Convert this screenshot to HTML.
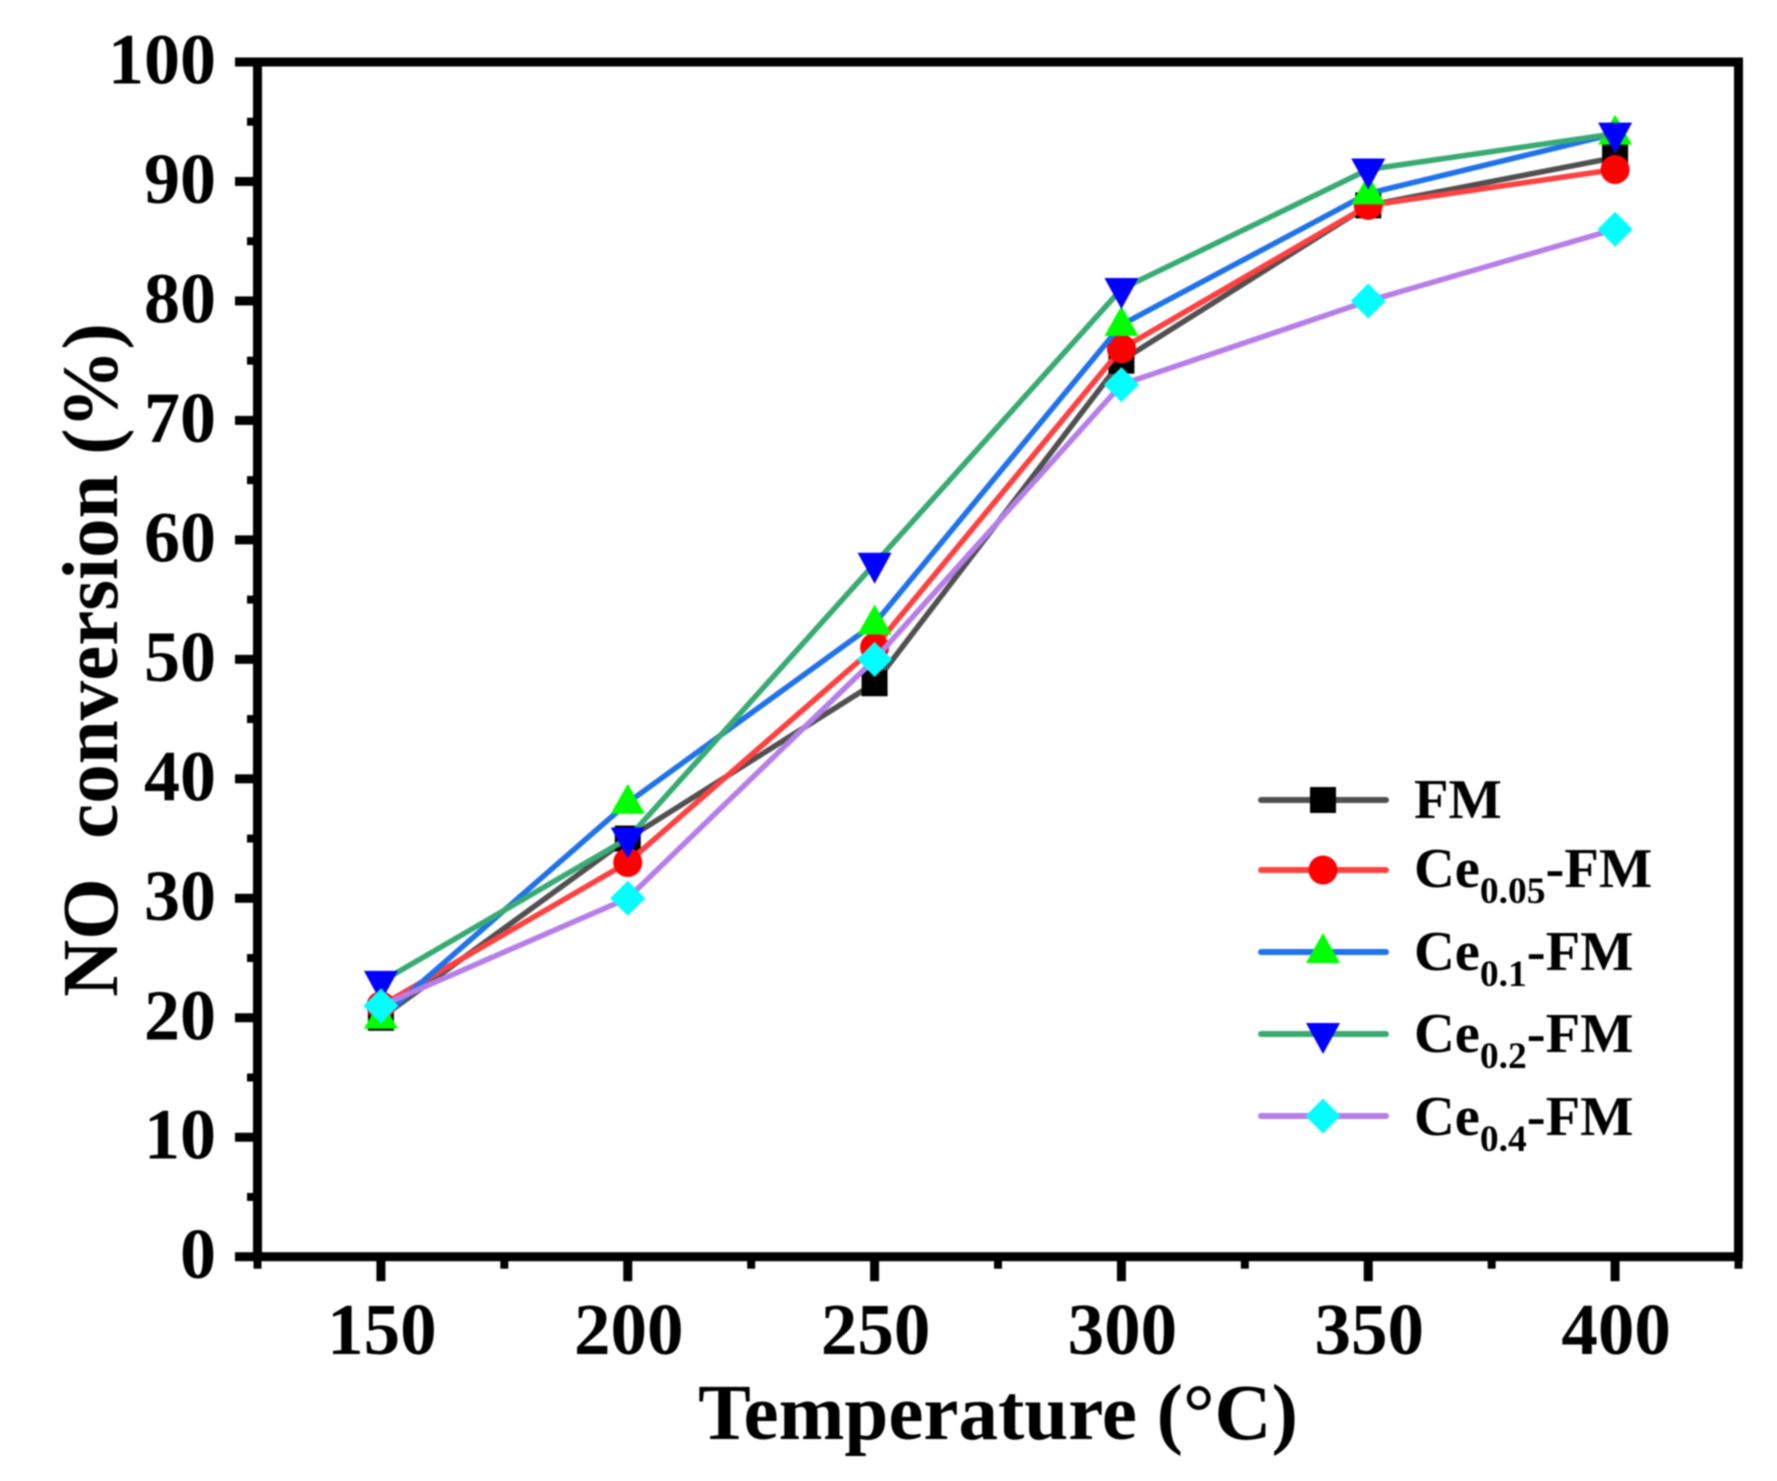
<!DOCTYPE html>
<html lang="en">
<head>
<meta charset="utf-8">
<title>NO conversion vs temperature</title>
<style>
html,body{margin:0;padding:0;background:#fff;width:1777px;height:1481px;overflow:hidden}
svg{display:block;filter:blur(.7px)}
text{font-family:"Liberation Serif","Times New Roman",serif;font-weight:bold;fill:#000;white-space:pre}
</style>
</head>
<body>
<svg id="chart" xmlns="http://www.w3.org/2000/svg" width="1777" height="1481" viewBox="0 0 1777 1481"></svg>
<script>
const categories = [150, 200, 250, 300, 350, 400];
const fmValues = [20, 35, 48, 75, 88, 92];
const ce005Values = [21, 33, 51, 76, 88, 91];
const ce01Values = [20, 38, 53, 78, 89, 94];
const ce02Values = [23, 35, 58, 81, 91, 94];
const ce04Values = [21, 30, 50, 73, 80, 86];
const xMajorTicks = [150, 200, 250, 300, 350, 400];
const xMinorTicks = [125, 175, 225, 275, 325, 375, 425];
const yMajorTicks = [0, 10, 20, 30, 40, 50, 60, 70, 80, 90, 100];
const yMinorTicks = [5, 15, 25, 35, 45, 55, 65, 75, 85, 95];

const svg = document.getElementById('chart');
const NS = 'http://www.w3.org/2000/svg';
const plot = {left: 257.5, right: 1738.5, top: 62, bottom: 1256.7};
const xDomain = [125, 425];
const yDomain = [0, 100];
function xScale(v){ return plot.left + (v - xDomain[0]) / (xDomain[1] - xDomain[0]) * (plot.right - plot.left); }
function yScale(v){ return plot.bottom - (v - yDomain[0]) / (yDomain[1] - yDomain[0]) * (plot.bottom - plot.top); }
function make(tag, attrs, parent){
  const e = document.createElementNS(NS, tag);
  for (const k in attrs) e.setAttribute(k, attrs[k]);
  (parent || svg).appendChild(e);
  return e;
}
function drawMarker(shape, color, cx, cy, parent){
  let m;
  if (shape === 'square') m = make('rect', {x: cx - 13, y: cy - 13, width: 26, height: 26, fill: color}, parent);
  else if (shape === 'circle') m = make('circle', {cx: cx, cy: cy, r: 14.5, fill: color}, parent);
  else if (shape === 'up') m = make('polygon', {points: [cx, cy - 19, cx + 17, cy + 11, cx - 17, cy + 11].join(' '), fill: color}, parent);
  else if (shape === 'down') m = make('polygon', {points: [cx, cy + 20, cx + 17, cy - 11, cx - 17, cy - 11].join(' '), fill: color}, parent);
  else m = make('polygon', {points: [cx, cy - 17.5, cx + 17.5, cy, cx, cy + 17.5, cx - 17.5, cy].join(' '), fill: color}, parent);
  return m;
}

const seriesList = [
  {key: 'fm', values: fmValues, line: '#505050', marker: '#000000', shape: 'square', label: '', sub: '', tail: 'FM', legendY: 800, base: 818},
  {key: 'ce005', values: ce005Values, line: '#ff4040', marker: '#ff0000', shape: 'circle', label: 'Ce', sub: '0.05', tail: '-FM', legendY: 870, base: 887},
  {key: 'ce01', values: ce01Values, line: '#1f72ea', marker: '#00ff00', shape: 'up', label: 'Ce', sub: '0.1', tail: '-FM', legendY: 952, base: 970},
  {key: 'ce02', values: ce02Values, line: '#38ab72', marker: '#0000ff', shape: 'down', label: 'Ce', sub: '0.2', tail: '-FM', legendY: 1034, base: 1052},
  {key: 'ce04', values: ce04Values, line: '#b67ee8', marker: '#00ffff', shape: 'diamond', label: 'Ce', sub: '0.4', tail: '-FM', legendY: 1116, base: 1135}
];

/* series */
seriesList.forEach(function(s){
  const g = make('g', {});
  
  
  const pts = s.values.map(function(v, i){ return xScale(categories[i]) + ',' + yScale(v); }).join(' ');
  const line = make('polyline', {points: pts, fill: 'none', stroke: s.line, 'stroke-width': 5.5, 'stroke-linejoin': 'round'}, g);
  
  
  s.values.forEach(function(v, i){
    const m = drawMarker(s.shape, s.marker, xScale(categories[i]), yScale(v), g);
    
    
  });
});

/* frame */
const frame = make('rect', {x: plot.left, y: plot.top, width: plot.right - plot.left, height: plot.bottom - plot.top, fill: 'none', stroke: '#000', 'stroke-width': 9});



/* y ticks */
yMajorTicks.forEach(function(v){
  const y = yScale(v);
  const t = make('rect', {x: 235, y: y - 4.5, width: 22, height: 9, fill: '#000'});
  
  
  const l = make('text', {x: 216, y: y + 21.5, 'text-anchor': 'end', 'font-size': 72});
  l.textContent = String(v);
  
  
});
yMinorTicks.forEach(function(v){
  const t = make('rect', {x: 247, y: yScale(v) - 4, width: 10, height: 8, fill: '#000'});
  
  
});

/* x ticks */
xMajorTicks.forEach(function(v){
  const x = xScale(v);
  const t = make('rect', {x: x - 4.5, y: plot.bottom, width: 9, height: 24.5, fill: '#000'});
  
  
  const l = make('text', {x: x + 1, y: 1354, 'text-anchor': 'middle', 'font-size': 73});
  l.textContent = String(v);
  
  
});
xMinorTicks.forEach(function(v){
  const t = make('rect', {x: xScale(v) - 4, y: plot.bottom, width: 8, height: 12, fill: '#000'});
  
  
});

/* axis titles */
const xTitle = make('text', {x: 998, y: 1439, 'text-anchor': 'middle', 'font-size': 79});
xTitle.textContent = 'Temperature (°C)';



const yTitle = make('text', {x: 0, y: 0, 'text-anchor': 'middle', 'font-size': 79, transform: 'translate(117 660) rotate(-90)'});
yTitle.textContent = 'NO  conversion (%)';



/* legend */
const legend = make('g', {});


seriesList.forEach(function(s){
  const g = make('g', {}, legend);
  
  
  const ln = make('line', {x1: 1261, x2: 1386, y1: s.legendY, y2: s.legendY, stroke: s.line, 'stroke-width': 6, 'stroke-linecap': 'round'}, g);
  
  
  const mk = drawMarker(s.shape, s.marker, 1323, s.legendY, g);
  
  
  const tx = make('text', {x: 1414, y: s.base, 'font-size': 56.5}, g);
  
  
  if (s.sub) {
    const a = make('tspan', {}, tx);
    a.textContent = s.label;
    const b = make('tspan', {dy: 16, 'font-size': 37.5}, tx);
    b.textContent = s.sub;
    const c = make('tspan', {dy: -16}, tx);
    c.textContent = s.tail;
  } else {
    tx.textContent = s.tail;
  }
});
</script>
</body>
</html>
